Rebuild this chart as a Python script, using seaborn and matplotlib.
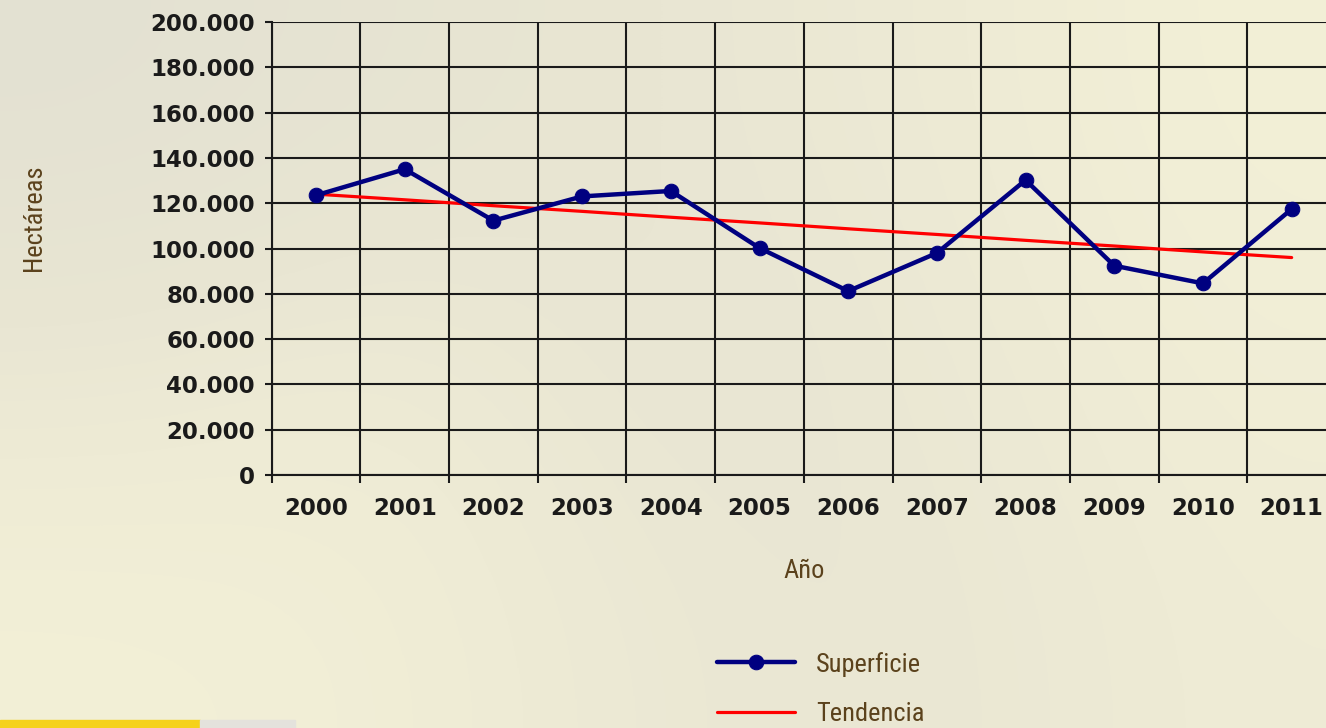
import numpy as np
import pandas as pd
import matplotlib
matplotlib.use("Agg")
import matplotlib.pyplot as plt
import seaborn as sns
from matplotlib.ticker import FuncFormatter, MultipleLocator

# values
years = [2000, 2001, 2002, 2003, 2004, 2005, 2006, 2007, 2008, 2009, 2010, 2011]
superficie = [123500, 135000, 112300, 123000, 125400, 100200, 81200, 98000, 130200, 92400, 84600, 117400]
tendencia = [124000, 121500, 118900, 116400, 113800, 111300, 108700, 106200, 103600, 101100, 98500, 96000]

df = pd.DataFrame({"Año": years, "Superficie": superficie, "Tendencia": tendencia})

sns.set_style("white")
brown = "#5b421c"
narrow = ["Roboto Condensed", "Roboto", "DejaVu Sans"]

fig = plt.figure(figsize=(13.26, 7.28), dpi=100)

# beige background
bg = fig.add_axes([0, 0, 1, 1], zorder=-10)
grad = np.array([[0.0, 0.3, 0.5, 0.7, 1.0],
                 [0.6, 0.8, 0.4, 0.6, 0.9],
                 [1.0, 0.9, 0.6, 0.5, 0.8]])
cmap = matplotlib.colors.LinearSegmentedColormap.from_list("bg", ["#e3e1d2", "#e9e6d3", "#f3f0d7"])
bg.imshow(grad, cmap=cmap, aspect="auto", interpolation="bicubic", extent=[0, 1, 0, 1])
bg.add_patch(plt.Rectangle((0, 0), 200 / 1326, 8 / 728, color="#f5d21c"))
bg.add_patch(plt.Rectangle((200 / 1326, 0), 95 / 1326, 8 / 728, color="#e4e2dc"))
bg.set_xlim(0, 1)
bg.set_ylim(0, 1)
bg.axis("off")

ax = fig.add_axes([271.7 / 1326, 253 / 728, 1064.3 / 1326, 453 / 728])
ax.patch.set_alpha(0)

sns.lineplot(data=df, x="Año", y="Superficie", ax=ax, color="#000080", linewidth=3.2,
             marker="o", markersize=10.5, markeredgecolor="#000080", label="Superficie", zorder=4)
sns.lineplot(data=df, x="Año", y="Tendencia", ax=ax, color="#ff0000", linewidth=2.3,
             label="Tendencia", zorder=3)

ax.set_xlim(1999.5, 2011.5)
ax.set_ylim(0, 200000)
ax.set_xticks(years)
ax.xaxis.set_minor_locator(MultipleLocator(1, offset=0.5))
ax.yaxis.set_major_locator(MultipleLocator(20000))
ax.yaxis.set_major_formatter(FuncFormatter(lambda v, p: f"{int(v):,}".replace(",", ".")))

ax.grid(False)
ax.grid(True, axis="y", which="major", color="#1a1a1a", linewidth=1.5)
ax.grid(True, axis="x", which="minor", color="#1a1a1a", linewidth=1.5)
for s in ["top", "right"]:
    ax.spines[s].set_visible(False)
for s in ["left", "bottom"]:
    ax.spines[s].set_color("#1a1a1a")
    ax.spines[s].set_linewidth(1.5)

ax.tick_params(axis="x", which="major", length=0, pad=16)
ax.tick_params(axis="x", which="minor", length=6, width=1.5, color="#1a1a1a", direction="out", bottom=True)
ax.tick_params(axis="y", length=5, width=1.5, color="#1a1a1a", direction="out", left=True, pad=7)
for lab in ax.get_xticklabels() + ax.get_yticklabels():
    lab.set_fontfamily("DejaVu Sans")
    lab.set_fontweight("bold")
    lab.set_fontsize(16.5)
    lab.set_color("#1a1a1a")

label_font = dict(family=narrow, size=19, color=brown)
ax.set_xlabel("Año", labelpad=28, **label_font)
ax.set_ylabel("Hectáreas", **label_font)
ax.yaxis.set_label_coords(-0.212, 0.567)

ax.get_legend().remove()
h, l = ax.get_legend_handles_labels()
fig.legend(h, l, loc="upper left", bbox_to_anchor=(693 / 1326, 1 - 628 / 728), frameon=False,
           handlelength=2.95, handletextpad=0.8, labelspacing=0.95,
           prop=dict(family=narrow, size=19), labelcolor=brown)

fig.savefig("out.png", dpi=100)
